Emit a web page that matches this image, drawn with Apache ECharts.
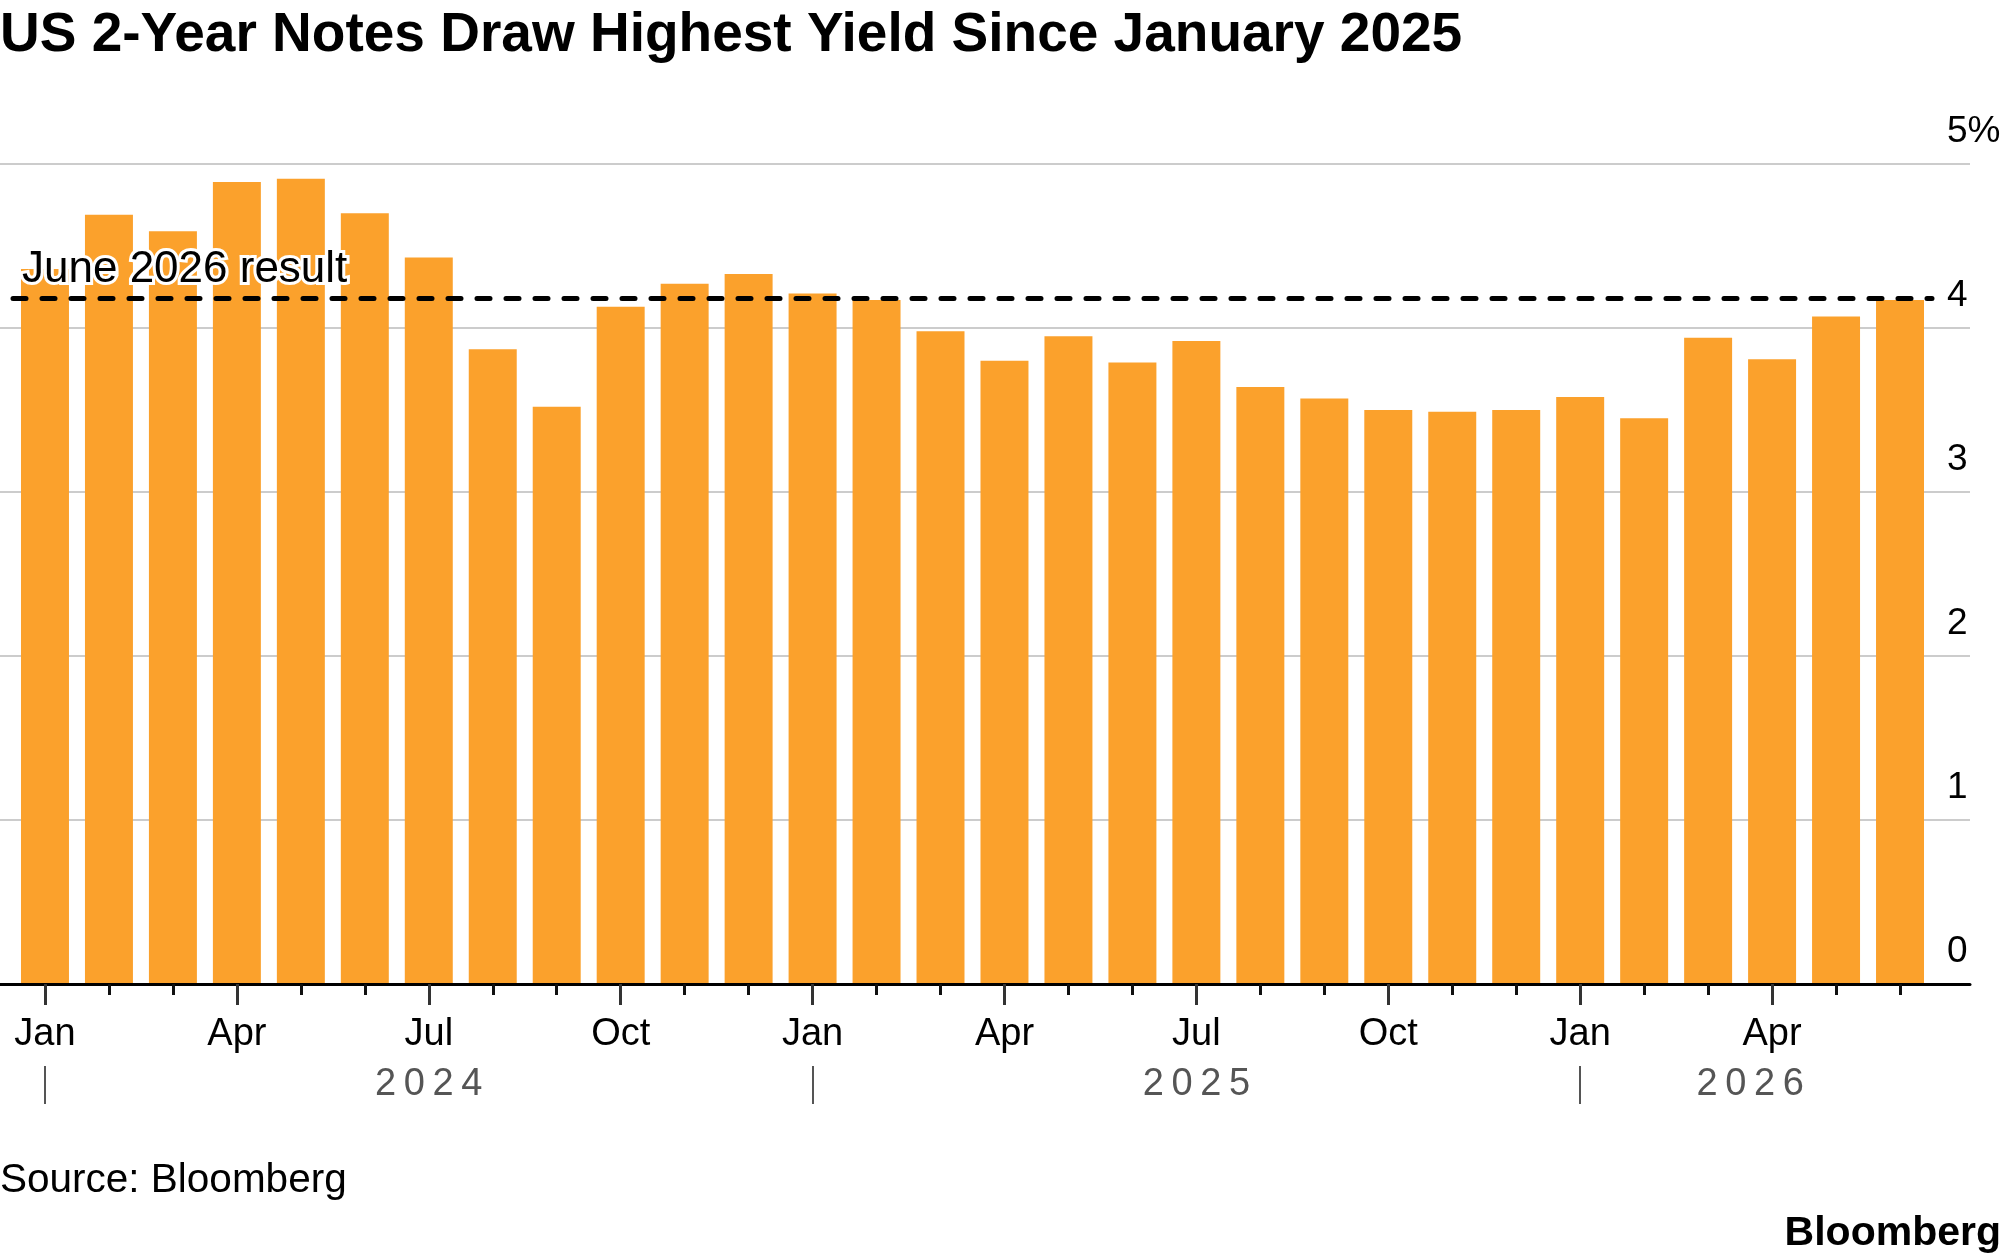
<!DOCTYPE html>
<html>
<head>
<meta charset="utf-8">
<title>US 2-Year Notes Draw Highest Yield Since January 2025</title>
<script src="https://cdn.jsdelivr.net/npm/echarts@6/dist/echarts.min.js"></script>
<style>
  html, body { margin: 0; padding: 0; background: #fff; }
  #chart { width: 2005px; height: 1260px; }
</style>
</head>
<body>
<div id="chart"></div>
<script>
// 月份（2024年1月 - 2026年6月）
var months = [
  'Jan', 'Feb', 'Mar', 'Apr', 'May', 'Jun', 'Jul', 'Aug', 'Sep', 'Oct', 'Nov', 'Dec',
  'Jan', 'Feb', 'Mar', 'Apr', 'May', 'Jun', 'Jul', 'Aug', 'Sep', 'Oct', 'Nov', 'Dec',
  'Jan', 'Feb', 'Mar', 'Apr', 'May', 'Jun'
];
// 两年期国债拍卖收益率 %
var yields = [
  4.36, 4.69, 4.59, 4.89, 4.91, 4.70, 4.43, 3.87, 3.52, 4.13, 4.27, 4.33,
  4.21, 4.17, 3.98, 3.80, 3.95, 3.79, 3.92, 3.64, 3.57, 3.50, 3.49, 3.50,
  3.58, 3.45, 3.94, 3.81, 4.07, 4.17
];
var juneResult = 4.185;
var yearLabels = ['2024', '2025', '2026'];
var yearLabelIndex = [6, 18, 27];
var yearStartIndex = [0, 12, 24];
var quarterMonths = ['Jan', 'Apr', 'Jul', 'Oct'];

var font = 'Liberation Sans, Arial, Helvetica, sans-serif';
var myChart = echarts.init(document.getElementById('chart'));

function yearText(v, i) {
  var k = yearLabelIndex.indexOf(i);
  if (k < 0) return '';
  var t = yearLabels[k].split('').join('\u2009');
  // 2026 标签往左挪一点
  return k === 2 ? '{s|' + t + '}' : t;
}

var option = {
  animation: false,
  backgroundColor: '#fff',
  textStyle: { fontFamily: font },
  title: [
    {
      text: 'US 2-Year Notes Draw Highest Yield Since January 2025',
      left: 0, top: 8, padding: 0,
      textStyle: { fontSize: 55, fontWeight: 'bold', color: '#000', fontFamily: font }
    },
    {
      text: 'Source: Bloomberg',
      left: 0, top: 1160, padding: 0,
      textStyle: { fontSize: 40.5, fontWeight: 'normal', color: '#000', fontFamily: font }
    },
    {
      text: 'Bloomberg',
      right: 4, top: 1213, padding: 0,
      textStyle: { fontSize: 41, fontWeight: 'bold', color: '#000', fontFamily: font }
    }
  ],
  grid: [
    { left: 0, right: 35, top: 164, bottom: 276 },
    { left: 13, right: 73, top: 164, bottom: 276 }
  ],
  xAxis: [
    {
      // 底部基线
      gridIndex: 0, type: 'value', min: 0, max: 1, z: 5, position: 'bottom',
      axisLine: { show: true, lineStyle: { color: '#000', width: 3 } },
      axisTick: { show: false }, axisLabel: { show: false }, splitLine: { show: false }
    },
    {
      // 月度小刻度
      gridIndex: 1, type: 'category', data: months, z: 5, position: 'bottom',
      axisLine: { show: false },
      axisTick: { show: true, alignWithLabel: true, interval: 0, length: 11, lineStyle: { color: '#111', width: 3 } },
      axisLabel: { show: false }
    },
    {
      // 季度刻度和标签
      gridIndex: 1, type: 'category', data: months, z: 5, position: 'bottom',
      axisLine: { show: false },
      axisTick: {
        show: true, alignWithLabel: true, length: 21,
        interval: function (i, v) { return quarterMonths.indexOf(v) >= 0; },
        lineStyle: { color: '#333', width: 3 }
      },
      axisLabel: {
        show: true, fontSize: 38, color: '#000', margin: 32,
        interval: function (i, v) { return quarterMonths.indexOf(v) >= 0; }
      }
    },
    {
      // 年份分隔线
      gridIndex: 1, type: 'category', data: months, offset: 82, position: 'bottom',
      axisLine: { show: false },
      axisTick: {
        show: true, alignWithLabel: true, length: 38,
        interval: function (i) { return yearStartIndex.indexOf(i) >= 0; },
        lineStyle: { color: '#555', width: 2 }
      },
      axisLabel: { show: false }
    },
    {
      // 年份标签
      gridIndex: 1, type: 'category', data: months, offset: 82, position: 'bottom',
      axisLine: { show: false }, axisTick: { show: false },
      axisLabel: {
        show: true, fontSize: 38, color: '#555', margin: 0,
        interval: function (i) { return yearLabelIndex.indexOf(i) >= 0; },
        formatter: yearText,
        rich: { s: { fontSize: 38, color: '#555', padding: [0, 44, 0, 0] } }
      }
    }
  ],
  yAxis: [
    {
      gridIndex: 0, type: 'value', min: 0, max: 5, interval: 1, position: 'right',
      axisLine: { show: false }, axisTick: { show: false },
      splitLine: { show: true, lineStyle: { color: '#cccccc', width: 2 } },
      axisLabel: {
        inside: true, align: 'left', margin: 23, verticalAlign: 'bottom',
        fontSize: 37, color: '#000', lineHeight: 64,
        formatter: function (v) { return v === 5 ? v + '%' : v; }
      }
    },
    { gridIndex: 1, type: 'value', min: 0, max: 5, interval: 1, show: false }
  ],
  series: [
    {
      type: 'bar',
      xAxisIndex: 1, yAxisIndex: 1,
      data: yields,
      barCategoryGap: '25%',
      itemStyle: { color: '#fba12c' },
      markLine: {
        silent: true,
        symbol: 'none',
        data: [{ yAxis: juneResult }],
        lineStyle: { color: '#000', type: [13, 16], width: 5, cap: 'round' },
        label: {
          show: true,
          formatter: 'June 2026 result',
          position: 'insideStartTop',
          distance: [9, 7],
          fontSize: 44, color: '#000',
          textBorderColor: '#fff', textBorderWidth: 6
        }
      }
    }
  ]
};

myChart.setOption(option);
window.onresize = myChart.resize;
</script>
</body>
</html>
